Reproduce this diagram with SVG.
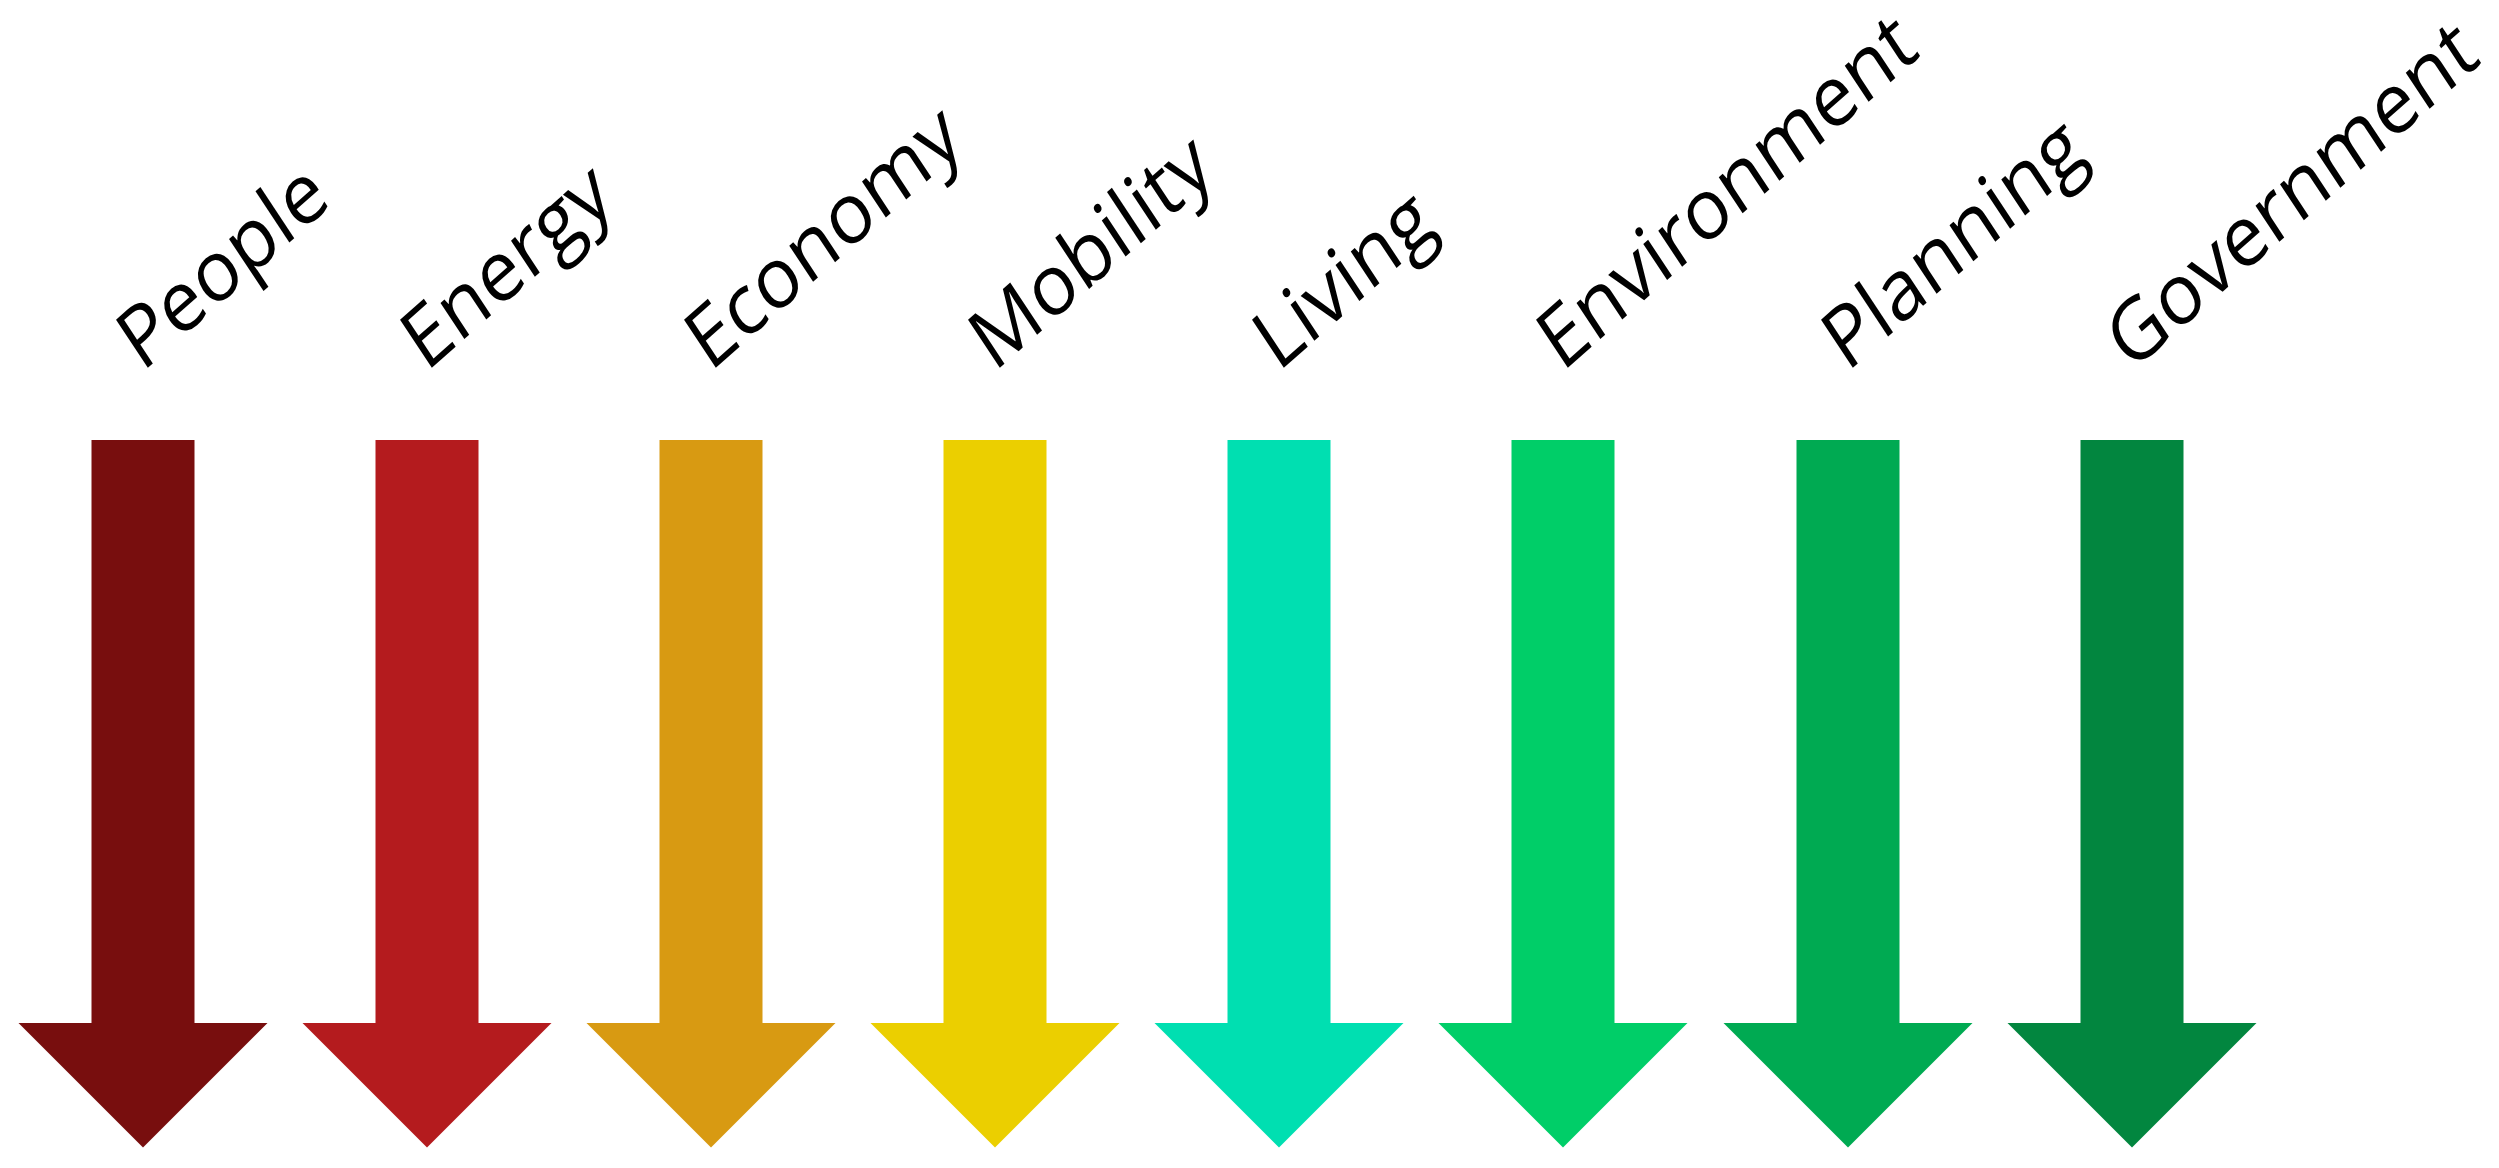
<svg xmlns="http://www.w3.org/2000/svg" width="2499" height="1168" viewBox="0 0 2499 1168">
<style>
.lbl{font-family:"Open Sans",sans-serif;font-size:80px;fill:#000}
</style>
<defs>
<path id="arr" d="M-51.5 440 H51.5 V1023 H124.5 L0 1147.5 L-124.5 1023 H-51.5 Z"/>
</defs>
<rect width="2499" height="1168" fill="#fff"/>
<g id="connectors"></g>
<g id="n1"><use href="#arr" x="143" fill="#780E0E"/><text class="lbl" transform="translate(142,373) rotate(-41.5) skewX(-8)">People</text></g>
<g id="n2"><use href="#arr" x="427" fill="#B41B1E"/><text class="lbl" transform="translate(426,373) rotate(-41.5) skewX(-8)">Energy</text></g>
<g id="n3"><use href="#arr" x="711" fill="#D89A12"/><text class="lbl" transform="translate(710,373) rotate(-41.5) skewX(-8)">Economy</text></g>
<g id="n4"><use href="#arr" x="995" fill="#EBCF00"/><text class="lbl" transform="translate(994,373) rotate(-41.5) skewX(-8)">Mobility</text></g>
<g id="n5"><use href="#arr" x="1279" fill="#00DFB1"/><text class="lbl" transform="translate(1278,373) rotate(-41.5) skewX(-8)">Living</text></g>
<g id="n6"><use href="#arr" x="1563" fill="#00CE68"/><text class="lbl" transform="translate(1562,373) rotate(-41.5) skewX(-8)">Environment</text></g>
<g id="n7"><use href="#arr" x="1848" fill="#00AA52"/><text class="lbl" transform="translate(1847,373) rotate(-41.5) skewX(-8)">Planning</text></g>
<g id="n8"><use href="#arr" x="2132" fill="#02863F"/><text class="lbl" transform="translate(2131,373) rotate(-41.5) skewX(-8)">Government</text></g>
</svg>
